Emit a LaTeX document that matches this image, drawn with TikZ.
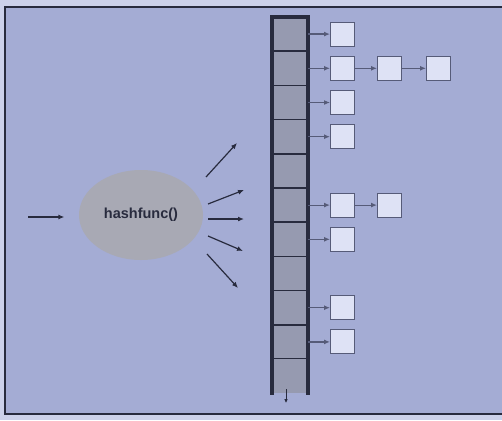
\documentclass[tikz,border=0pt]{standalone}
\usepackage{fontspec}
\usepackage{tikz}
\usetikzlibrary{positioning,shapes.geometric,arrows.meta}
\newfontfamily\hashfont{Liberation Sans}

\definecolor{slide}{RGB}{164,172,212}
\definecolor{rim}{RGB}{204,209,234}
\definecolor{ink}{RGB}{40,43,62}
\definecolor{cellgrey}{RGB}{150,154,176}
\definecolor{boxfill}{RGB}{222,226,245}
\definecolor{boxline}{RGB}{86,91,120}
\definecolor{blob}{RGB}{168,169,180}

\tikzset{
  cell/.style={rectangle, draw=ink, line width=1.6pt, fill=cellgrey,
    minimum width=36pt, minimum height=34.2pt, inner sep=0pt, outer sep=0pt},
  cellopen/.style={cell, draw=none},
  bucket/.style={rectangle, draw=boxline, line width=1pt, fill=boxfill,
    minimum size=24pt, inner sep=0pt},
  hashnode/.style={ellipse, fill=blob, minimum width=124pt, minimum height=90pt,
    inner sep=0pt, font=\hashfont\fontsize{14.5}{16}\selectfont\bfseries, text=ink}
}

\begin{document}
\begin{tikzpicture}[x=1pt, y=-1pt, >={Latex[length=6pt,width=5pt]}, node distance=22pt, line width=1.2pt]
    \clip (0,0) rectangle (502,420);
    \useasboundingbox (0,0) rectangle (502,420);
    \fill [rim] (0,0) rectangle (502,420);
    \filldraw [fill=slide, draw=ink, line width=1.4pt] (5,7) rectangle (510,414);

    % hash function
    \node [hashnode] (hash) at (141,215) {hashfunc()};
    \coordinate (in) at (28,217);
    \draw [->, color=ink, shorten >=14pt] (in) -- (in -| hash.west);

    \coordinate (o1) at (206,177); \coordinate (t1) at (237,143);
    \coordinate (o2) at (208,204); \coordinate (t2) at (244,190);
    \coordinate (o3) at (208,219); \coordinate (t3) at (244,219);
    \coordinate (o4) at (208,236); \coordinate (t4) at (243,251);
    \coordinate (o5) at (207,254); \coordinate (t5) at (238,288);
    \foreach \i in {1,...,5}
      \draw [->, color=ink] (o\i) -- (t\i);

    % table
    \node [cell] (c0) at (290,34.1) {};
    \foreach \i [evaluate=\i as \j using int(\i-1)] in {1,...,9}
      \node [cell, below=0pt of c\j] (c\i) {};
    \node [cellopen, below=0pt of c9] (c10) {};
    \draw [ink, line width=3.2pt]
      ([yshift=-1.5pt]c10.south west) -- (c0.north west) -- (c0.north east) -- ([yshift=-1.5pt]c10.south east);

    \coordinate (d0) at ([xshift=-4pt,yshift=4pt]c10.south);
    \coordinate (d1) at ([xshift=-4pt,yshift=-10pt]c10.south);
    \draw [-{Latex[length=4pt,width=3.5pt]}, color=ink, line width=0.8pt] (d0) -- (d1);

    % chains
    \node [bucket] (k0) [right=of c0] {};
    \node [bucket] (k1) [right=of c1] {};
    \node [bucket] (k1x) [right=of k1] {};
    \node [bucket] (k1y) [right=24pt of k1x] {};
    \node [bucket] (k2) [right=of c2] {};
    \node [bucket] (k3) [right=of c3] {};
    \node [bucket] (k5) [right=of c5] {};
    \node [bucket] (k5x) [right=of k5] {};
    \node [bucket] (k6) [right=of c6] {};
    \node [bucket] (k8) [right=of c8] {};
    \node [bucket] (k9) [right=of c9] {};
    \path [->, color=boxline]
    (c0) edge (k0)
    (c1) edge (k1)
    (k1) edge (k1x)
    (k1x) edge (k1y)
    (c2) edge (k2)
    (c3) edge (k3)
    (c5) edge (k5)
    (k5) edge (k5x)
    (c6) edge (k6)
    (c8) edge (k8)
    (c9) edge (k9)
    ;
  \end{tikzpicture}
\end{document}
